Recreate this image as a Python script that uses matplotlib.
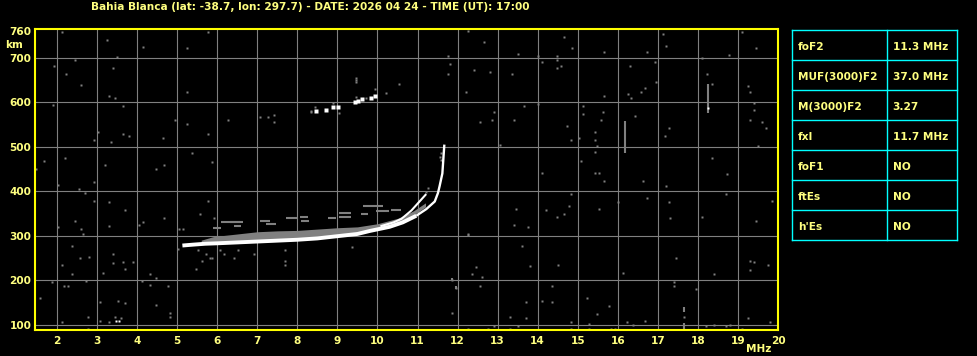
import matplotlib
matplotlib.use("Agg")
import matplotlib.pyplot as plt

FONT = ['DejaVu Sans']
plt.rcParams['font.family'] = FONT
plt.rcParams['font.weight'] = 'bold'

# ---------------- data ----------------
title = "Bahia Blanca (lat: -38.7, lon: 297.7) - DATE: 2026 04 24 - TIME (UT): 17:00"
x_ticks = [2, 3, 4, 5, 6, 7, 8, 9, 10, 11, 12, 13, 14, 15, 16, 17, 18, 19, 20]
y_ticks = [100, 200, 300, 400, 500, 600, 700, 760]
x_grid = [2, 3, 4, 5, 6, 7, 8, 9, 10, 11, 12, 13, 14, 15, 16, 17, 18, 19]
y_grid = [100, 200, 300, 400, 500, 600, 700]

table_labels = ["foF2", "MUF(3000)F2", "M(3000)F2", "fxI", "foF1", "ftEs", "h'Es"]
table_values = ["11.3 MHz", "37.0 MHz", "3.27", "11.7 MHz", "NO", "NO", "NO"]

# main (white) F2 trace
trace_f = [5.13, 5.4, 5.7, 6.0, 6.5, 7.0, 7.5, 8.0, 8.5, 9.0, 9.5, 9.82, 10.3, 10.63,
           10.97, 11.22, 11.43, 11.51, 11.55, 11.62, 11.67]
trace_h = [278, 280, 282, 283, 285, 287, 289, 291, 294, 299, 304, 311, 320, 330,
           345, 360, 377, 396, 411, 440, 505]
# second (white) branch near the cusp
branch_f = [10.1, 10.4, 10.6, 10.85, 11.05, 11.2]
branch_h = [322, 330, 338, 357, 377, 392]

# grey spread band above the trace
band_f = [5.6, 5.9, 6.5, 7.0, 7.5, 8.0, 8.5, 9.0, 9.5, 10.0, 10.5, 10.9, 11.2]
band_lo = [282, 284, 286, 288, 290, 293, 296, 300, 305, 314, 328, 346, 365]
band_hi = [290, 298, 304, 309, 311, 312, 315, 318, 320, 327, 339, 356, 374]

# grey spread dashes
dash_f0 = [6.31, 6.43, 7.06, 7.22, 7.72, 8.06, 8.10, 8.76, 9.05, 9.05, 9.60, 9.97, 10.35, 6.10, 9.63, 5.90]
dash_f1 = [6.56, 6.60, 7.31, 7.47, 8.01, 8.26, 8.30, 8.97, 9.35, 9.35, 9.76, 10.30, 10.60, 6.65, 10.13, 6.10]
dash_h = [331, 322, 334, 327, 339, 343, 333, 339, 352, 342, 349, 356, 359, 332, 366, 318]

# second-hop echoes
hop2_white_f = [8.47, 8.72, 8.89, 9.01, 9.43, 9.51, 9.62, 9.85, 9.93]
hop2_white_h = [581, 583, 590, 589, 601, 604, 607, 609, 614]
hop2_grey_f = [8.33, 8.43, 8.89, 9.04, 9.47, 9.72, 9.93, 10.22, 9.47, 10.53, 9.47, 9.47,
               8.35, 7.07, 7.27, 7.42, 7.42, 11.59, 11.59, 11.55, 11.2, 11.25]
hop2_grey_h = [579, 589, 599, 577, 612, 609, 629, 622, 645, 642, 655, 650,
               580, 566, 566, 571, 555, 470, 485, 478, 398, 408]

# scattered grey noise
noise_f = [2.13, 3.24, 4.14, 5.78, 5.24, 2.44, 3.49, 1.93, 3.39, 2.23, 2.59, 3.29, 3.44, 1.89,
           3.64, 5.24, 4.94, 5.24, 6.28, 5.78, 3.03, 3.64, 3.79, 2.93, 3.34, 4.64, 1.68, 2.19,
           1.48, 3.19, 4.48, 4.68, 5.38, 5.88, 2.03, 2.54, 2.69, 2.93, 2.93, 3.29, 3.69, 5.78,
           2.44, 2.03, 2.59, 3.29, 2.66, 4.04, 4.14, 4.68, 5.04, 5.14, 5.58, 5.93,
           12.27, 12.67, 14.66, 14.86, 17.12, 17.21, 19.11, 19.46, 11.77, 11.82, 11.77, 12.42,
           12.82, 13.52, 13.37, 14.01, 14.12, 14.47, 14.47, 14.57, 14.47, 15.66, 16.72, 16.31,
           16.92, 18.11, 18.77, 12.22, 15.66, 16.26, 16.32, 16.57, 16.67, 16.96, 18.22, 18.36,
           19.26, 19.31, 13.67, 14.01, 12.92, 12.87, 12.57, 13.42, 15.12, 15.12, 15.62, 15.57,
           16.42, 19.41, 19.41, 19.31, 19.61, 19.71, 14.72, 14.82, 15.02, 15.42, 15.42, 15.47,
           15.42, 15.07, 13.07, 17.27, 17.17, 19.51, 18.36, 14.12, 15.42, 15.52, 15.66, 16.62,
           18.72, 17.21, 14.82, 16.72, 17.27, 18.69, 19.86, 16.01, 13.47, 14.22, 14.47, 14.66,
           14.77, 15.52, 17.31, 18.11, 19.46, 13.42, 13.77, 12.27,
           2.38, 2.58, 2.81, 2.13, 2.38, 3.39, 3.39, 3.64, 3.69, 3.89, 3.14, 4.33, 4.48, 1.88,
           2.18, 2.28, 2.73, 4.13, 4.33, 4.78, 1.58, 3.08, 3.53, 3.69, 4.48, 2.78, 3.08, 2.13,
           2.78, 4.83, 4.83, 3.29, 3.44, 3.59,
           5.48, 5.63, 5.83, 5.88, 5.73, 6.18, 6.43, 6.53, 6.93, 7.68, 7.68, 7.68, 9.37, 6.08,
           5.53, 5.03,
           12.27, 13.62, 12.47, 12.37, 12.62, 11.87, 11.97, 12.57, 13.81, 14.51, 16.12, 17.46,
           18.41, 19.31, 19.41, 19.76, 19.31, 17.41, 17.41, 17.96, 14.37, 13.71, 14.12, 14.37,
           11.87, 13.32, 13.71, 15.22, 15.77, 15.47, 16.67, 16.22, 16.37, 17.66, 19.26, 19.81,
           18.21, 18.41, 18.71, 18.81, 19.11, 14.82, 15.27, 14.82, 15.27, 13.32, 13.52, 12.92,
           12.75, 12.27, 15.82, 15.92]
noise_h = [758, 740, 725, 758, 722, 695, 703, 681, 677, 663, 640, 614, 609, 595,
           591, 623, 560, 551, 561, 528, 533, 528, 524, 515, 510, 519, 469, 474,
           451, 460, 451, 460, 485, 465, 415, 406, 397, 420, 379, 375, 357, 379,
           334, 319, 316, 321, 303, 325, 330, 339, 316, 316, 348, 339,
           760, 735, 746, 722, 753, 726, 758, 722, 704, 686, 663, 672,
           668, 708, 663, 704, 690, 704, 695, 681, 677, 713, 713, 681,
           690, 699, 706, 623, 614, 618, 609, 623, 632, 645, 663, 641,
           636, 623, 591, 596, 578, 561, 555, 560, 591, 573, 578, 560,
           569, 599, 582, 560, 555, 542, 546, 515, 519, 533, 515, 501,
           488, 469, 505, 542, 524, 501, 474, 442, 442, 442, 424, 424,
           438, 411, 393, 384, 375, 393, 379, 377, 361, 357, 343, 350,
           366, 361, 339, 343, 334, 325, 319, 303,
           276, 249, 253, 235, 213, 258, 238, 240, 226, 242, 217, 215, 204, 195,
           186, 188, 199, 199, 190, 186, 159, 150, 154, 148, 145, 118, 109, 105,
           91, 127, 118, 107, 118, 115,
           226, 244, 251, 249, 258, 258, 249, 267, 258, 269, 244, 235, 274, 269,
           269, 271,
           302, 276, 229, 213, 208, 201, 183, 186, 231, 235, 217, 249,
           213, 244, 240, 235, 222, 195, 186, 181, 186, 150, 154, 150,
           127, 118, 114, 159, 141, 124, 109, 105, 100, 118, 114, 105,
           96, 100, 98, 100, 91, 105, 102, 91, 91, 91, 96, 96,
           91, 91, 91, 91]

# vertical grey streaks
streak_f = [16.17, 18.26, 17.66, 17.66, 11.87, 11.97]
streak_h0 = [486, 576, 128, 88, 198, 180]
streak_h1 = [557, 641, 139, 104, 205, 187]

# isolated white dots
white_f = [3.46, 3.54, 18.26]
white_h = [108, 108, 588]

# ---------------- figure ----------------
W, H = 978, 356
fig = plt.figure(figsize=(W / 100, H / 100), dpi=100, facecolor='black')
ax = fig.add_axes([35 / W, (H - 330) / H, 743 / W, 301 / H], facecolor='black')

YEL = '#FFFF00'
TXT = '#FFFF80'
GREY = '#808080'
FS = 7.6

for g in x_grid:
    ax.axvline(g, color=GREY, lw=0.8, zorder=1)
for g in y_grid:
    ax.axhline(g, color=GREY, lw=0.8, zorder=1)

# grey spread
ax.fill_between(band_f, band_lo, band_hi, color=GREY, lw=0, zorder=2)
ax.hlines(dash_h, dash_f0, dash_f1, color=GREY, lw=1.5, zorder=2)
ax.vlines(streak_f, streak_h0, streak_h1, color=GREY, lw=1.5, zorder=2)
ax.plot(noise_f, noise_h, 's', ms=1.5, mec='none', color=GREY, zorder=2)
ax.plot(hop2_grey_f, hop2_grey_h, 's', ms=1.6, mec='none', color=GREY, zorder=2)

# white traces
ax.plot(trace_f[:15], trace_h[:15], color='white', lw=2.8, solid_capstyle='butt', zorder=3)
ax.plot(trace_f[14:], trace_h[14:], color='white', lw=1.7, solid_capstyle='butt', zorder=3)
ax.plot(branch_f, branch_h, color='white', lw=1.5, zorder=3)
ax.plot(hop2_white_f, hop2_white_h, 's', ms=2.4, mec='none', color='white', zorder=3)
ax.plot(white_f, white_h, 's', ms=1.6, mec='none', color='white', zorder=3)

ax.set_xlim(1.45, 20.0)
ax.set_ylim(88, 765)
ax.set_xticks(x_ticks)
ax.set_xticklabels([str(v) for v in x_ticks])
ax.set_yticks(y_ticks)
ax.set_yticklabels([str(v) for v in y_ticks])
ax.tick_params(axis='both', length=0, colors=TXT, labelsize=FS)
ax.tick_params(axis='x', pad=4.5)
ax.tick_params(axis='y', pad=2.6)
for lab in ax.get_xticklabels() + ax.get_yticklabels():
    lab.set_fontweight('bold')
    lab.set_family(FONT)
for sp in ax.spines.values():
    sp.set_color(YEL)
    sp.set_linewidth(1.5)

fig.text(91 / W, 1 - 6.7 / H, title, color=TXT, fontsize=FS, fontweight='bold',
         ha='left', va='center')
fig.text(5 / W, 1 - 45.5 / H, "km", color=TXT, fontsize=FS, fontweight='bold',
         ha='left', va='center')
fig.text(771 / W, 1 - 349 / H, "MHz", color=TXT, fontsize=FS, fontweight='bold',
         ha='right', va='center')

# ---------------- parameter table ----------------
tx = fig.add_axes([792.3 / W, (H - 240.3) / H, 165 / W, 210 / H], facecolor='black')
tx.set_xlim(0, 1)
tx.set_ylim(0, 1)
tx.axis('off')
CY = '#00FFFF'
n = len(table_labels)
for k in range(n + 1):
    tx.axhline(k / n, color=CY, lw=1.0, clip_on=False)
tx.axvline(0, color=CY, lw=1.0, clip_on=False)
tx.axvline(1, color=CY, lw=1.0, clip_on=False)
tx.axvline(95 / 165, color=CY, lw=1.0, clip_on=False)
for i, (lab, val) in enumerate(zip(table_labels, table_values)):
    yc = 1 - (i + 0.5) / n - 0.006
    tx.text(5.4 / 165, yc, lab, color=TXT, fontsize=FS, fontweight='bold',
            ha='left', va='center')
    tx.text(100.4 / 165, yc, val, color=TXT, fontsize=FS, fontweight='bold',
            ha='left', va='center')

fig.savefig("out.png", dpi=100, facecolor='black')
